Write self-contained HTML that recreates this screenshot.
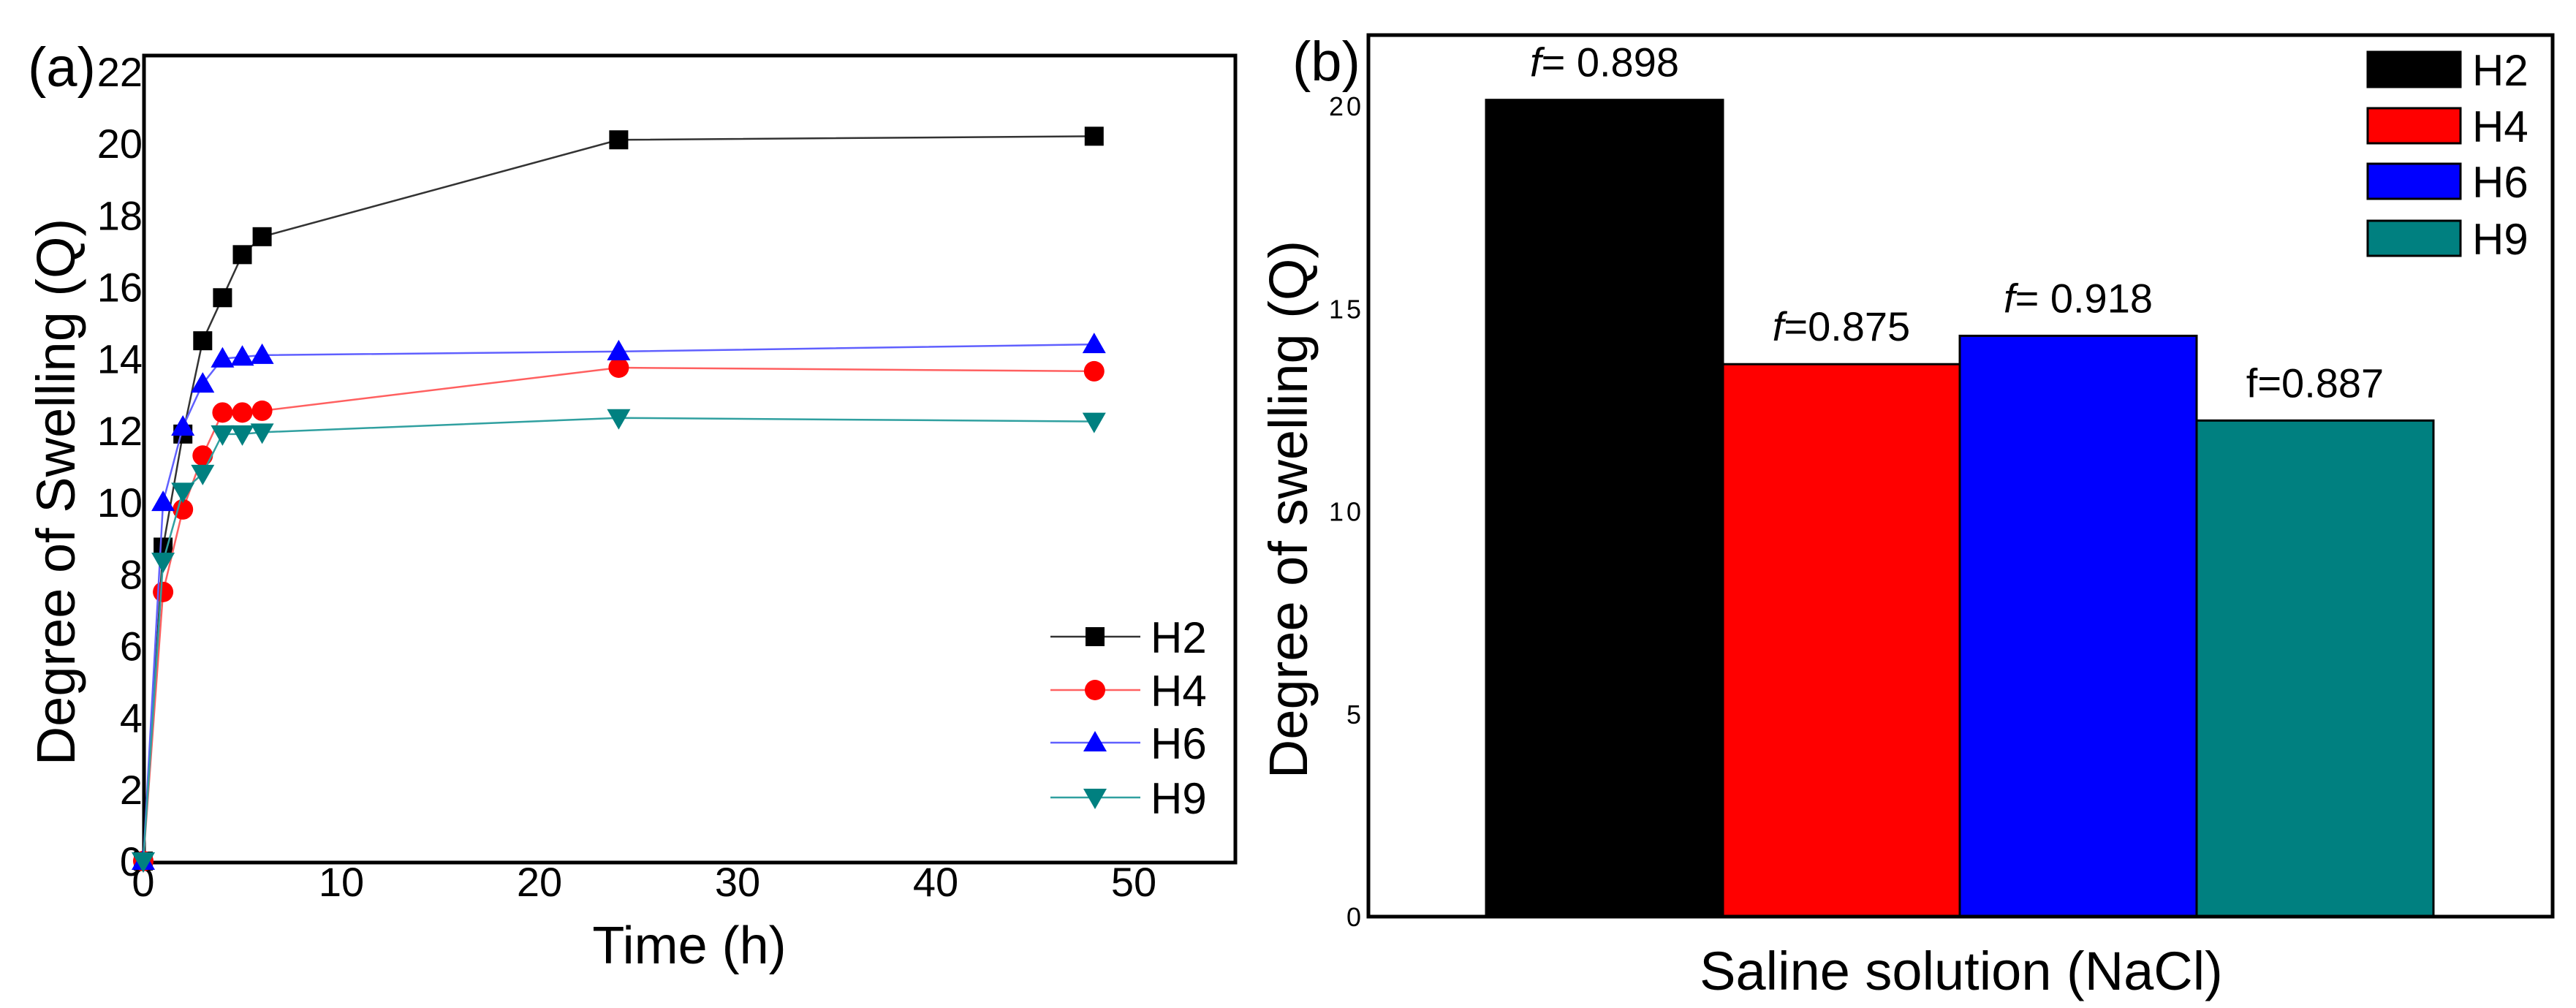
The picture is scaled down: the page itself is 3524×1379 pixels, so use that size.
<!DOCTYPE html>
<html><head><meta charset="utf-8"><style>
html,body{margin:0;padding:0;background:#fff;}
svg{display:block;font-family:"Liberation Sans",sans-serif;}
</style></head><body>
<svg id="fig" width="3524" height="1379" viewBox="0 0 3524 1379">
<rect x="0" y="0" width="3524" height="1379" fill="#fff"/>
<g id="pa"></g>
<g id="pb"></g>
</svg>
<script>
// Panel (a) data
const times = [0, 1, 2, 3, 4, 5, 6, 24, 48];
const seriesNames = ["H2", "H4", "H6", "H9"];
const h2Values = [0, 8.75, 11.9, 14.5, 15.7, 16.9, 17.4, 20.1, 20.2];
const h4Values = [0, 7.5, 9.8, 11.3, 12.5, 12.5, 12.55, 13.75, 13.65];
const h6Values = [0, 10.0, 12.1, 13.3, 14.0, 14.05, 14.1, 14.2, 14.4];
const h9Values = [0, 8.35, 10.3, 10.8, 11.9, 11.9, 11.95, 12.35, 12.25];
const xTicksA = [0, 10, 20, 30, 40, 50];
const yTicksA = [0, 2, 4, 6, 8, 10, 12, 14, 16, 18, 20, 22];
// Panel (b) data
const barNames = ["H2", "H4", "H6", "H9"];
const barValues = [20.15, 13.63, 14.33, 12.24];
const barLabels = ["= 0.898", "=0.875", "= 0.918", "f=0.887"];
const barLabelItalicF = [true, true, true, false];
const yTicksB = [0, 5, 10, 15, 20];

const NS = "http://www.w3.org/2000/svg";
function mk(tag, attrs, parent, text) {
  const e = document.createElementNS(NS, tag);
  for (const k in attrs) e.setAttribute(k, attrs[k]);
  if (text !== undefined) e.textContent = text;
  parent.appendChild(e);
  return e;
}
const colors = ["#000000", "#ff0000", "#0000ff", "#008080"];
const lineColors = ["#333333", "#ff6060", "#6060ff", "#30a0a0"];
const allSeries = [h2Values, h4Values, h6Values, h9Values];

// ---------- Panel A ----------
const pa = document.getElementById("pa");
const aL = 197, aR = 1690, aT = 76, aB = 1180;
const xA = v => 196 + v * (1551 - 196) / 50;
const yA = v => 1178 - v * (1178 - 98) / 22;
let el;
el = mk("rect", {x: aL, y: aT, width: aR - aL, height: aB - aT, fill: "none", stroke: "#000", "stroke-width": 5}, pa);


xTicksA.forEach(t => {
  el = mk("text", {x: xA(t), y: 1226, "font-size": 56, "text-anchor": "middle"}, pa, String(t));
  
  
});
yTicksA.forEach(t => {
  el = mk("text", {x: 195, y: yA(t) + 20, "font-size": 56, "text-anchor": "end"}, pa, String(t));
  
  
});
el = mk("text", {x: 943, y: 1318, "font-size": 72, "text-anchor": "middle"}, pa, "Time (h)");


el = mk("text", {x: 0, y: 0, "font-size": 74, "text-anchor": "middle", transform: "translate(102,673) rotate(-90)"}, pa, "Degree of Swelling (Q)");


el = mk("text", {x: 38, y: 118, "font-size": 76}, pa, "(a)");



function marker(parent, i, cx, cy) {
  let m;
  if (i === 0) m = mk("rect", {x: cx - 13, y: cy - 13, width: 26, height: 26, fill: colors[0]}, parent);
  else if (i === 1) m = mk("circle", {cx: cx, cy: cy, r: 14, fill: colors[1]}, parent);
  else if (i === 2) m = mk("polygon", {points: `${cx},${cy-16} ${cx+16},${cy+12} ${cx-16},${cy+12}`, fill: colors[2]}, parent);
  else m = mk("polygon", {points: `${cx},${cy+16} ${cx+16},${cy-12} ${cx-16},${cy-12}`, fill: colors[3]}, parent);
  return m;
}
allSeries.forEach((vals, i) => {
  const g = mk("g", {}, pa);
  
  
  const pts = vals.map((v, j) => xA(times[j]) + "," + yA(v)).join(" ");
  el = mk("polyline", {points: pts, fill: "none", stroke: lineColors[i], "stroke-width": 2.5}, g);
  
  
  vals.forEach((v, j) => {
    el = marker(g, i, xA(times[j]), yA(v));
    
    
  });
});
const legA = mk("g", {}, pa);


const legRowsA = [871, 944, 1016, 1091];
seriesNames.forEach((n, i) => {
  const y = legRowsA[i];
  el = mk("line", {x1: 1437, y1: y, x2: 1560, y2: y, stroke: lineColors[i], "stroke-width": 2.5}, legA);
  
  
  el = marker(legA, i, 1498, y);
  
  
  el = mk("text", {x: 1574, y: y + 22, "font-size": 60}, legA, n);
  
  
});

// ---------- Panel B ----------
const pb = document.getElementById("pb");
const bL = 1872, bR = 3492, bT = 48, bB = 1254;
const yB = v => 1254 - v * (1254 - 145) / 20;
const barX0 = 2033, barW = 324;
allSeries; // no-op
barValues.forEach((v, i) => {
  el = mk("rect", {x: barX0 + i * barW, y: yB(v), width: barW, height: yB(0) - yB(v), fill: colors[i], stroke: "#000", "stroke-width": 3}, pb);
  
  
  const t = mk("text", {x: barX0 + i * barW + barW / 2, y: yB(v) - 32, "font-size": 56, "text-anchor": "middle"}, pb);
  
  
  if (barLabelItalicF[i]) mk("tspan", {"font-style": "italic"}, t, "f");
  mk("tspan", {}, t, barLabels[i]);
});
el = mk("rect", {x: bL, y: bT, width: bR - bL, height: bB - bT, fill: "none", stroke: "#000", "stroke-width": 5}, pb);


yTicksB.forEach(t => {
  el = mk("text", {x: 1866, y: yB(t) + 13, "font-size": 36, "text-anchor": "end", "letter-spacing": 4}, pb, String(t));
  
  
});
el = mk("text", {x: 0, y: 0, "font-size": 74, "text-anchor": "middle", transform: "translate(1788,697) rotate(-90)"}, pb, "Degree of swelling (Q)");


el = mk("text", {x: 2683, y: 1354, "font-size": 74, "text-anchor": "middle"}, pb, "Saline solution (NaCl)");


el = mk("text", {x: 1768, y: 110, "font-size": 76}, pb, "(b)");


const legB = mk("g", {}, pb);


const legRowsB = [95, 172, 248, 326];
barNames.forEach((n, i) => {
  const y = legRowsB[i];
  el = mk("rect", {x: 3239, y: y - 24, width: 127, height: 48, fill: colors[i], stroke: "#000", "stroke-width": 3}, legB);
  
  
  el = mk("text", {x: 3382, y: y + 22, "font-size": 60}, legB, n);
  
  
});
</script>
</body></html>
